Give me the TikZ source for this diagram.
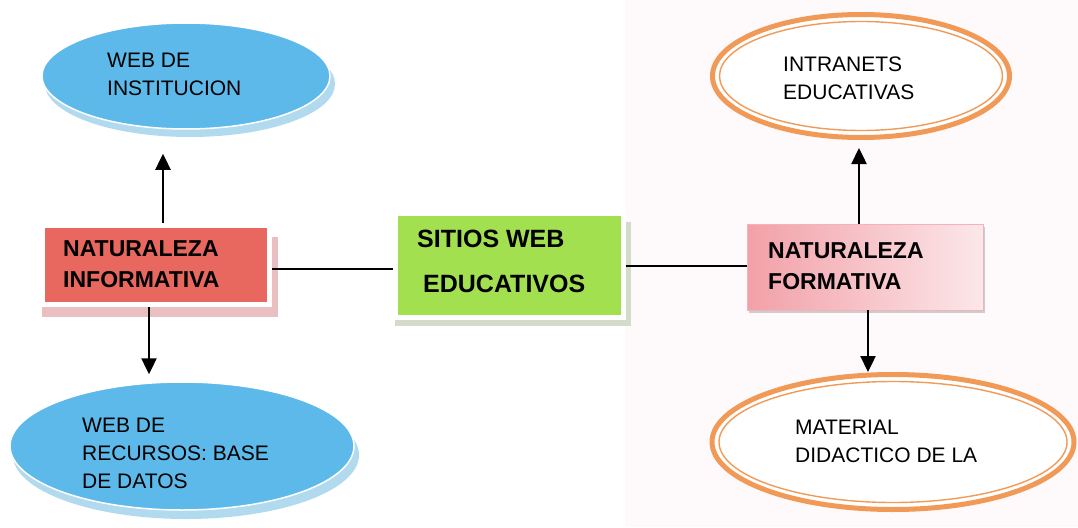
\documentclass[tikz,border=0pt]{standalone}
\usepackage{fontspec}
\setmainfont{Liberation Sans}
\usetikzlibrary{shapes.geometric,arrows.meta}

\definecolor{celeste}{HTML}{5CB9E9}
\definecolor{celestesombra}{HTML}{B2DAEE}
\definecolor{rojo}{HTML}{E8675E}
\definecolor{rojosombra}{HTML}{E9BFC2}
\definecolor{verde}{HTML}{A3E050}
\definecolor{verdesombra}{HTML}{D2DCC8}
\definecolor{rosa}{HTML}{F2A0A8}
\definecolor{naranja}{HTML}{F19A57}
\definecolor{fondo}{HTML}{FEFAFB}

\tikzset{
  nube/.style={ellipse, fill=celeste, draw=white, line width=1.5pt, inner sep=0pt},
  nubesombra/.style={ellipse, fill=celestesombra, inner sep=0pt},
  anillo/.style={ellipse, draw=naranja, line width=5pt, fill=white, inner sep=0pt},
  anillofino/.style={ellipse, draw=naranja, line width=1.4pt, inner sep=0pt},
  caja/.style={rectangle, draw=white, line width=5pt, inner sep=0pt},
  cajasombra/.style={rectangle, inner sep=0pt},
  texto/.style={anchor=north west, align=left, inner sep=0pt, font=\fontsize{21}{28}\selectfont},
  negrita/.style={anchor=north west, align=left, inner sep=0pt, font=\bfseries\fontsize{23}{31}\selectfont},
  flecha/.style={line width=2.4pt, -{Triangle[length=16pt,width=15pt]}},
  linea/.style={line width=1.3pt}
}

\begin{document}
\begin{tikzpicture}[x=1pt,y=-1pt]
	\useasboundingbox (0,0) rectangle (1078,527);
	\fill[fondo] (625,0) rectangle (1078,527);

	% elipses azules
	\node[nubesombra, minimum width=290pt, minimum height=106pt] (instsombra) at (190,84) {};
	\node[nube, minimum width=288pt, minimum height=106pt] (inst) at (186,76) {};
	\node[texto] (insttexto) at (107,53) {WEB DE\\INSTITUCION};

	\node[nubesombra, minimum width=346pt, minimum height=128pt] (recsombra) at (186,455) {};
	\node[nube, minimum width=344pt, minimum height=128pt] (rec) at (182,446) {};
	\node[texto] (rectexto) at (82,418) {WEB DE\\RECURSOS: BASE\\DE DATOS};

	% elipses naranjas
	\node[anillo, minimum width=297pt, minimum height=123pt] (intra) at (861,76) {};
	\node[anillofino, minimum width=283pt, minimum height=109pt] (intrafino) at (861,76) {};
	\node[texto] (intratexto) at (783,57) {INTRANETS\\EDUCATIVAS};

	\node[anillo, minimum width=362pt, minimum height=135pt] (mat) at (893,442) {};
	\node[anillofino, minimum width=348pt, minimum height=121pt] (matfino) at (893,442) {};
	\node[texto] (mattexto) at (795,420) {MATERIAL\\DIDACTICO DE LA};

	% cajas
	\node[cajasombra, fill=rojosombra, minimum width=236pt, minimum height=80pt] (nisombra) at (160,277) {};
	\node[caja, fill=rojo, minimum width=227pt, minimum height=79pt] (ni) at (156,265) {};
	\node[negrita] (nitexto) at (63,240) {NATURALEZA\\INFORMATIVA};

	\node[cajasombra, fill=verdesombra, minimum width=236pt, minimum height=104pt] (swsombra) at (513,274) {};
	\node[caja, fill=verde, minimum width=228pt, minimum height=104pt] (sw) at (509,265) {};
	\node[anchor=north west, inner sep=0pt, font=\bfseries\fontsize{25}{30}\selectfont] (swuno) at (417,230) {SITIOS WEB};
	\node[anchor=north west, inner sep=0pt, font=\bfseries\fontsize{25}{30}\selectfont] (swdos) at (423,275) {EDUCATIVOS};

	\node[cajasombra, fill=black!20, minimum width=236pt, minimum height=86pt] (nfsombra) at (867,270) {};
	\node[rectangle, draw=rosa!80, line width=0.6pt, left color=rosa, right color=rosa!25, minimum width=236pt, minimum height=86pt] (nf) at (865,267) {};
	\node[negrita] (nftexto) at (768,242) {NATURALEZA\\FORMATIVA};

	% conectores
	\draw[linea] ([yshift=-4pt]ni.east) -- ([yshift=-4pt]ni.east -| sw.west);
	\draw[linea] ([yshift=-1pt]sw.east) -- ([yshift=-1pt]sw.east -| nf.west);

	\draw[flecha, shorten >=24pt] ([xshift=7pt]ni.north) -- ([xshift=7pt]ni.north |- inst.south);
	\draw[flecha, shorten >=7pt] ([xshift=-7pt]ni.south) -- ([xshift=-7pt]ni.south |- rec.north);
	\draw[flecha, shorten >=8pt] ([xshift=-6pt]nf.north) -- ([xshift=-6pt]nf.north |- intra.south);
	\draw[flecha] ([xshift=3pt]nf.south) -- ([xshift=3pt]nf.south |- mat.north);
\end{tikzpicture}
\end{document}
